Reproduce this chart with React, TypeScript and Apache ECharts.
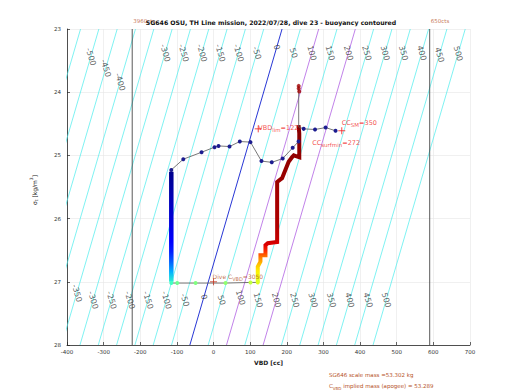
import React, { useEffect, useRef } from "react";
import * as echarts from "echarts";

const FONT = "DejaVu Sans";

// Buoyancy contour levels [g]
const contourLevels = [-550, -500, -450, -400, -350, -300, -250, -200, -150, -100, -50, 0, 50, 100, 150, 200, 250, 300, 350, 400, 450, 500];
// Neutral (0 g) contour: VBD [cc] at sigma_t = 23 and 28
const neutralSigma = [23, 28];
const neutralVBD = [187, -64.6];

// Contour labels
const upperLabelLevels = [-500, -450, -400, -300, -250, -200, -150, -100, -50, 0, 50, 100, 150, 200, 250, 300, 350, 400, 450, 500];
const lowerLabelLevels = [-350, -300, -250, -200, -150, -100, -50, 0, 50, 100, 150, 200, 250, 300, 350, 400, 450, 500];

// VBD limits
const vbdLimitCC = [-222, 590];
const vbdLimitText = ["3960cts", "650cts"];

// Descent (constant VBD)
const descentVBD = [-115.3, -115.3, -115.3];
const descentSigma = [25.26, 26.2, 27.0];

// Apogee
const apogeeVBD = [-115.3, -99, -49, 32.7, 100.8, 120.7];
const apogeeSigma = [27.02, 27.02, 27.02, 27.02, 27.01, 27.01];

// Climb
const climbVBD = [120.7, 120.7, 128, 128, 141.7, 141.7, 148, 173.6, 173.6, 187, 196, 205, 214, 219, 234, 234, 232];
const climbSigma = [27.01, 26.76, 26.68, 26.58, 26.58, 26.42, 26.39, 26.37, 25.42, 25.36, 25.23, 25.1, 25.03, 25.0, 25.03, 24.65, 24.52];

// Surface points
const surfaceVBD = [-115.3, -82.6, -32.7, 2.7, 13.6, 43.6, 71.7, 100.8, 130.8, 158.9, 188.8, 216, 232];
const surfaceSigma = [25.23, 25.06, 24.95, 24.87, 24.85, 24.86, 24.78, 24.79, 25.09, 25.11, 25.05, 24.88, 24.78];

const finalVBD = [232.4, 232.4, 246, 277, 306, 333];
const finalSigma = [23.9, 24.55, 24.58, 24.59, 24.56, 24.61];

const topVBD = [232.4, 232.4, 234];
const topSigma = [23.9, 23.94, 23.99];

// Annotations
const vbdLim = 122;
const ccSM = 350;
const ccSurfMin = 272;
const diveCVBD = 3050;
const scaleMass = 53.302;
const impliedMass = 53.289;

// ---- layout / style (not data) ----
const upperLabelSigma: Record<number, number> = { [-500]: 23.44, [-450]: 23.62, [-400]: 23.84, 0: 23.29, 450: 23.41, 500: 23.39 };
const upperDefaultSigma = 23.38;
const lowerLabelSigma: Record<number, number> = { [-350]: 27.18, 0: 27.24, 100: 27.25 };
const lowerDefaultSigma = 27.29;

const descentColors = ["#00008c", "#00009c", "#0000ac", "#0000bc", "#0000cc", "#0000dc", "#0000ec", "#0000ff", "#0020ff", "#0060ff", "#00b0ff", "#30f0d0"];
const climbColors = [
  "#880000", "#8a0000", "#8c0000", "#8e0000", "#900000", "#920000", "#940000", "#960000", "#980000",
  "#9c0000", "#a00000", "#a40000", "#a60000", "#a80000", "#aa0000", "#ac0000",
  "#b20000", "#ba0000", "#c40000", "#e00000", "#ff3000", "#ff8000", "#ffc000", "#ffec00", "#f0ff10", "#d0ff30",
];
const apogeeColors = ["#40ffc0", "#70ff90", "#80ff80", "#90ff70", "#c0ff40", "#e0ff20"];

const neutralAt = (s: number) =>
  neutralVBD[0] + ((s - neutralSigma[0]) / (neutralSigma[1] - neutralSigma[0])) * (neutralVBD[1] - neutralVBD[0]);

const contourColor = (lvl: number) => (lvl === 0 ? "#1020d0" : lvl === 100 || lvl === 200 ? "#a64ce0" : "#48ecec");

const plusSymbol = "path://M0,5L10,5M5,0L5,10";

const RED = "#f01c1c";
const BROWN = "#b5501e";

const redRich = {
  a: { fontSize: 6.5, color: RED, fontFamily: FONT, lineHeight: 10 },
  s: { fontSize: 5.5, color: RED, fontFamily: FONT, lineHeight: 5, verticalAlign: "bottom" },
};
const brownRich = {
  a: { fontSize: 6, color: BROWN, fontFamily: FONT, lineHeight: 10 },
  s: { fontSize: 5, color: BROWN, fontFamily: FONT, lineHeight: 5, verticalAlign: "bottom" },
};

function buildOption() {
  const series: any[] = [];

  contourLevels.forEach((lvl) => {
    series.push({
      type: "line",
      silent: true,
      symbol: "none",
      z: 1,
      data: neutralSigma.map((s, i) => [lvl + neutralVBD[i], s]),
      lineStyle: { color: contourColor(lvl), width: lvl === 0 ? 0.9 : 0.7 },
    });
  });

  vbdLimitCC.forEach((v, i) => {
    series.push({
      type: "line",
      silent: true,
      symbol: "none",
      z: 2,
      data: [[v, 23], [v, 28]],
      lineStyle: { color: "#303030", width: 0.8 },
    });
    series.push({
      type: "scatter",
      silent: true,
      symbolSize: 0,
      z: 6,
      data: [[v, 23]],
      label: {
        show: true,
        formatter: vbdLimitText[i],
        position: [1, -8],
        align: "left",
        verticalAlign: "middle",
        fontSize: 5.5,
        fontFamily: FONT,
        color: BROWN,
      },
    });
  });

  const labelData: any[] = [];
  upperLabelLevels.forEach((lvl) => {
    const s = upperLabelSigma[lvl] ?? upperDefaultSigma;
    labelData.push([lvl + neutralAt(s), s, lvl]);
  });
  lowerLabelLevels.forEach((lvl) => {
    const s = lowerLabelSigma[lvl] ?? lowerDefaultSigma;
    labelData.push([lvl + neutralAt(s), s, lvl]);
  });
  series.push({
    type: "scatter",
    silent: true,
    symbolSize: 0,
    z: 3,
    data: labelData,
    label: {
      show: true,
      position: "inside",
      rotate: -73.7,
      formatter: (p: any) => String(p.value[2]),
      fontSize: 8,
      fontFamily: FONT,
      color: "#3a3a3a",
    },
  });

  // descent column
  const descentIndex = series.length;
  series.push({
    type: "line",
    symbol: "none",
    z: 4,
    data: descentVBD.map((v, i) => [v, descentSigma[i]]),
    lineStyle: { width: 4.5 },
  });

  // apogee
  series.push({
    type: "line",
    z: 4,
    symbol: "circle",
    symbolSize: 4,
    data: apogeeVBD.map((v, i) => ({ value: [v, apogeeSigma[i]], itemStyle: { color: apogeeColors[i] } })),
    lineStyle: { color: "#555555", width: 0.8 },
  });

  // climb
  const climbIndex = series.length;
  series.push({
    type: "line",
    symbol: "none",
    z: 4,
    data: climbVBD.map((v, i) => [v, climbSigma[i]]),
    lineStyle: { width: 4, join: "miter" },
  });

  // surface line
  series.push({
    type: "line",
    z: 5,
    symbol: "circle",
    symbolSize: 4,
    data: surfaceVBD.map((v, i) => [v, surfaceSigma[i]]),
    itemStyle: { color: "#1c1c90" },
    lineStyle: { color: "#555555", width: 0.8 },
  });

  series.push({
    type: "line",
    z: 5,
    symbol: "circle",
    data: finalVBD.map((v, i) => ({ value: [v, finalSigma[i]], symbolSize: i < 2 ? 0 : 4 })),
    itemStyle: { color: "#1c1c90" },
    lineStyle: { color: "#555555", width: 0.8 },
  });

  series.push({
    type: "scatter",
    z: 6,
    symbolSize: 4,
    data: topVBD.map((v, i) => [v, topSigma[i]]),
    itemStyle: { color: "#a00000" },
  });

  // annotation markers
  series.push({
    type: "scatter",
    z: 7,
    symbol: plusSymbol,
    symbolSize: 7,
    itemStyle: { color: "none", borderColor: RED, borderWidth: 1 },
    data: [
      {
        value: [vbdLim, 24.58],
        label: {
          show: true,
          position: [6, 5],
          align: "left",
          verticalAlign: "middle",
          formatter: `{a|VBD}{s|lim}{a|=${vbdLim}}`,
          rich: redRich,
        },
      },
      {
        value: [ccSM, 24.61],
        label: {
          show: true,
          position: [6, -2],
          align: "left",
          verticalAlign: "middle",
          formatter: `{a|CC}{s|SM}{a|=${ccSM}}`,
          rich: redRich,
        },
      },
      {
        value: [0, 27.0],
        itemStyle: { color: "none", borderColor: "#c0301a", borderWidth: 1 },
        label: {
          show: true,
          position: [5, 0.5],
          align: "left",
          verticalAlign: "middle",
          formatter: `{a|Dive C}{s|VBD}{a|=${diveCVBD}}`,
          rich: brownRich,
        },
      },
    ],
  });

  series.push({
    type: "scatter",
    z: 7,
    symbolSize: 0,
    data: [[ccSurfMin, 24.8]],
    label: {
      show: true,
      position: [-1, 0],
      align: "left",
      verticalAlign: "middle",
      formatter: `{a|CC}{s|surfmin}{a|=${ccSurfMin}}`,
      rich: redRich,
    },
  });

  return {
    animation: false,
    backgroundColor: "#ffffff",
    grid: { left: 67, right: 50, top: 29, bottom: 45, containLabel: false },
    visualMap: [
      {
        type: "continuous",
        show: false,
        seriesIndex: descentIndex,
        dimension: 1,
        min: descentSigma[0],
        max: descentSigma[descentSigma.length - 1],
        inRange: { color: descentColors },
      },
      {
        type: "continuous",
        show: false,
        seriesIndex: climbIndex,
        dimension: 1,
        min: 24.52,
        max: 27.02,
        inRange: { color: climbColors },
      },
    ],
    xAxis: {
      type: "value",
      min: -400,
      max: 700,
      interval: 100,
      name: "VBD [cc]",
      nameLocation: "middle",
      nameGap: 14,
      nameTextStyle: { fontSize: 6, fontWeight: "bold", fontFamily: FONT, color: "#222" },
      axisLine: { show: true, onZero: false, lineStyle: { color: "#262626", width: 0.8 } },
      axisTick: { show: true, inside: true, length: 3, lineStyle: { color: "#262626", width: 0.7 } },
      axisLabel: { fontSize: 5.5, margin: 4, color: "#333", fontFamily: FONT },
      splitLine: { show: true, lineStyle: { color: "#e6e6e6", width: 0.6 } },
    },
    yAxis: {
      type: "value",
      min: 23,
      max: 28,
      interval: 1,
      inverse: true,
      axisLine: { show: true, onZero: false, lineStyle: { color: "#262626", width: 0.8 } },
      axisTick: { show: true, inside: true, length: 3, lineStyle: { color: "#262626", width: 0.7 } },
      axisLabel: { fontSize: 5.5, margin: 6, color: "#333", fontFamily: FONT },
      splitLine: { show: true, lineStyle: { color: "#e6e6e6", width: 0.6 } },
    },
    graphic: [
      {
        type: "text",
        x: 271,
        y: 22,
        z: 10,
        style: {
          text: "SG646 OSU, TH Line mission, 2022/07/28, dive 23 - buoyancy contoured",
          fontSize: 6.2,
          fontWeight: "bold",
          fontFamily: FONT,
          fill: "#111",
          align: "center",
          verticalAlign: "middle",
        },
      },
      {
        type: "text",
        x: 34,
        y: 190,
        rotation: Math.PI / 2,
        style: {
          text: "{a|σ}{s|t}{a| [kg/m}{p|3}{a|]}",
          align: "center",
          verticalAlign: "middle",
          rich: {
            a: { fontSize: 6, fontFamily: FONT, fill: "#222", lineHeight: 10 },
            s: { fontSize: 4.5, fontFamily: FONT, fill: "#222", lineHeight: 4, verticalAlign: "bottom" },
            p: { fontSize: 4.5, fontFamily: FONT, fill: "#222", lineHeight: 4, verticalAlign: "top" },
          },
        },
      },
      {
        type: "text",
        x: 329,
        y: 375,
        style: {
          text: `SG646 scale mass =${scaleMass.toFixed(3)} kg`,
          fontSize: 5.5,
          fontFamily: FONT,
          fill: BROWN,
          align: "left",
          verticalAlign: "middle",
        },
      },
      {
        type: "text",
        x: 329,
        y: 386,
        style: {
          text: `{a|C}{s|VBD}{a| implied mass (apogee) = ${impliedMass.toFixed(3)}}`,
          align: "left",
          verticalAlign: "middle",
          rich: {
            a: { fontSize: 5.5, fontFamily: FONT, fill: BROWN, lineHeight: 9 },
            s: { fontSize: 4, fontFamily: FONT, fill: BROWN, lineHeight: 4, verticalAlign: "bottom" },
          },
        },
      },
    ],
    series,
  };
}

export default function App() {
  const ref = useRef<HTMLDivElement>(null);
  useEffect(() => {
    const chart = echarts.init(ref.current!, null, { renderer: "svg" });
    chart.setOption(buildOption() as any);
    return () => chart.dispose();
  }, []);
  return (
    <div
      ref={ref}
      style={{ position: "fixed", left: 0, top: 0, width: 520, height: 390, background: "#fff" }}
    />
  );
}
